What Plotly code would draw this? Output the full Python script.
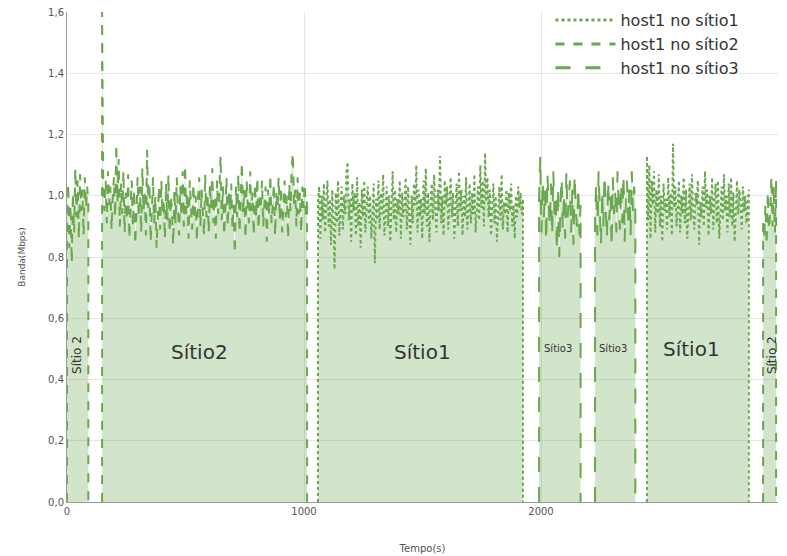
import plotly.graph_objects as go

# ---- data (time in s, bandwidth in Mbps), sampled every 5 s ----
step = 5

segA_start = 0      # host1 no sítio2
segA = [0.90, 1.04, 0.83, 0.97, 0.78, 1.01, 0.88, 1.09, 0.93, 1.05, 0.86, 1.07, 0.95, 1.02, 0.87, 1.06, 0.96, 1.03, 0.98]

segB_start = 148    # host1 no sítio2
segB = [1.60, 1.02, 0.95, 1.05, 0.91, 1.08, 0.97, 1.03, 0.89, 1.00,
        1.06, 0.93, 1.17, 0.98, 1.12, 0.90, 1.04, 0.94, 1.08, 0.88,
        1.01, 0.92, 1.07, 0.86, 0.99, 1.05, 0.90, 1.02, 0.84, 0.97,
        1.06, 0.93, 1.03, 0.88, 1.09, 0.95, 1.01, 0.87, 1.15, 0.96,
        1.04, 0.85, 0.98, 1.06, 0.91, 1.00, 0.83, 0.97, 1.03, 0.89,
        1.05, 0.94, 0.99, 0.86, 1.04, 0.92, 1.07, 0.88, 1.00, 0.95,
        0.84, 1.02, 0.91, 1.06, 0.96, 0.87, 1.03, 0.93, 1.08, 0.90,
        1.10, 0.94, 1.01, 0.86, 1.05, 0.97, 0.89, 1.04, 0.92, 1.00,
        0.85, 0.99, 1.06, 0.90, 1.02, 0.95, 0.87, 1.07, 0.93, 1.01,
        0.88, 1.04, 0.96, 1.09, 0.91, 1.00, 0.86, 1.05, 0.94, 1.02,
        1.13, 0.92, 1.03, 0.87, 0.98, 1.06, 0.90, 1.01, 0.95, 1.04,
        0.89, 0.97, 0.81, 1.03, 0.93, 1.07, 0.88, 1.00, 1.11, 0.94,
        1.02, 0.86, 1.05, 0.96, 0.91, 1.08, 0.95, 1.01, 0.87, 1.04,
        0.93, 1.06, 0.89, 1.00, 0.97, 1.05, 0.90, 0.98, 1.03, 0.85,
        1.02, 0.94, 1.07, 0.91, 0.99, 1.04, 0.87, 1.01, 0.96, 1.06,
        0.92, 1.03, 0.88, 0.97, 1.05, 0.93, 1.00, 0.86, 1.04, 0.95,
        1.09, 1.14, 0.97, 1.02, 0.90, 1.06, 0.94, 1.01, 0.88, 1.03,
        0.96, 1.04, 0.93, 0.99]

segC_start = 1059   # host1 no sítio1
segC = [0.98, 1.03, 0.86, 1.00, 0.92, 1.04, 0.88, 0.97, 1.05, 0.90,
        0.99, 0.84, 1.02, 0.93, 0.76, 1.01, 0.91, 1.05, 0.87, 0.96,
        1.03, 0.89, 1.00, 0.94, 1.08, 1.11, 0.92, 0.99, 0.85, 1.04,
        0.95, 1.01, 0.87, 1.06, 0.90, 0.98, 0.83, 1.02, 0.93, 1.05,
        0.88, 0.97, 1.03, 0.91, 1.00, 0.86, 0.95, 1.04, 0.78, 0.99,
        0.92, 1.05, 0.89, 1.01, 0.94, 1.07, 0.87, 0.98, 1.03, 0.90,
        1.00, 0.85, 0.96, 1.08, 0.92, 1.02, 0.88, 0.99, 0.94, 1.05,
        0.86, 1.01, 0.93, 0.97, 1.06, 0.89, 1.03, 0.95, 0.84, 1.00,
        0.91, 1.04, 0.97, 1.10, 0.88, 1.02, 0.93, 0.99, 0.86, 1.05,
        0.94, 1.09, 0.90, 1.01, 0.85, 0.98, 1.04, 0.92, 1.07, 0.96,
        0.88, 1.02, 0.95, 1.13, 0.91, 1.00, 0.87, 1.05, 0.97, 1.03,
        0.89, 0.99, 1.06, 0.93, 1.01, 0.86, 0.96, 1.04, 0.90, 1.08,
        0.95, 1.02, 0.87, 1.00, 0.93, 1.06, 0.89, 0.98, 1.04, 0.91,
        1.01, 0.94, 1.07, 0.88, 0.97, 1.03, 0.92, 1.10, 0.96, 1.05,
        0.90, 1.14, 0.98, 1.06, 0.93, 1.02, 0.87, 0.99, 1.04, 0.91,
        1.00, 0.85, 0.96, 1.03, 0.92, 1.07, 0.89, 0.98, 0.94, 1.02,
        0.88, 1.01, 0.95, 1.04, 0.90, 0.97, 0.86, 1.00, 0.93, 1.03,
        0.96, 1.01, 0.94, 0.99]

segD_start = 1992   # host1 no sítio3
segD = [1.00, 1.13, 0.88, 1.05, 0.93, 1.02, 0.85, 1.07, 0.96, 0.90,
        1.04, 0.87, 1.08, 0.94, 0.99, 0.82, 1.03, 0.80, 0.97, 1.06,
        0.89, 1.01, 0.86, 1.08, 0.93, 0.98, 1.05, 0.88, 1.02, 0.84,
        1.07, 0.95, 0.90, 1.03, 0.87, 0.97]

segE_start = 2228   # host1 no sítio3
segE = [0.93, 1.04, 0.87, 1.08, 0.95, 0.84, 1.02, 0.90, 1.07, 0.97,
        0.86, 1.05, 0.92, 1.00, 0.83, 1.06, 0.94, 1.01, 0.88, 1.08,
        0.96, 0.89, 1.04, 0.91, 1.07, 0.85, 0.99, 1.05, 0.92, 1.02,
        0.87, 1.08, 0.95, 1.03, 0.98]

segF_start = 2447   # host1 no sítio1
segF = [1.13, 0.92, 1.10, 0.86, 1.05, 0.97, 1.08, 0.88, 1.02, 0.94,
        1.07, 0.90, 1.00, 0.85, 1.04, 0.95, 0.99, 0.89, 1.06, 0.93,
        1.01, 0.87, 1.17, 0.96, 1.03, 0.90, 0.98, 1.05, 0.88, 1.00,
        0.94, 1.06, 0.91, 1.02, 0.86, 0.99, 1.04, 0.92, 1.07, 0.95,
        0.89, 1.01, 0.97, 1.05, 0.84, 0.98, 0.93, 1.03, 0.90, 1.08,
        0.96, 1.02, 0.87, 1.00, 0.94, 1.06, 0.89, 0.99, 1.04, 0.91,
        1.05, 0.86, 0.98, 1.03, 0.92, 1.07, 0.95, 1.00, 0.88, 1.04,
        0.93, 1.06, 0.90, 1.01, 0.85, 0.99, 1.05, 0.94, 1.02, 0.97,
        0.89, 1.03, 0.95, 1.00, 0.91, 0.98, 1.02]

segG_start = 2937   # host1 no sítio2
segG = [0.92, 0.86, 0.97, 0.84, 1.01, 0.89, 0.95, 1.06, 0.90, 1.03, 0.88, 1.05]

series_names = ["host1 no sítio1", "host1 no sítio2", "host1 no sítio3"]
series_dash = {"host1 no sítio1": "dot", "host1 no sítio2": "dash", "host1 no sítio3": "longdash"}

segments = [
    (segA_start, segA, "host1 no sítio2"),
    (segB_start, segB, "host1 no sítio2"),
    (segC_start, segC, "host1 no sítio1"),
    (segD_start, segD, "host1 no sítio3"),
    (segE_start, segE, "host1 no sítio3"),
    (segF_start, segF, "host1 no sítio1"),
    (segG_start, segG, "host1 no sítio2"),
]

labels = [
    # text, x, y, size, angle
    ("Sítio 2", 42, 0.48, 12, -90),
    ("Sítio2", 561, 0.49, 20, 0),
    ("Sítio1", 1502, 0.49, 20, 0),
    ("Sítio3", 2072, 0.50, 10, 0),
    ("Sítio3", 2304, 0.50, 10, 0),
    ("Sítio1", 2637, 0.50, 20, 0),
    ("Sítio 2", 2975, 0.48, 12, -90),
]

LINE = "#6aa84f"
FILL = "rgba(106,168,79,0.30)"
FONT = "DejaVu Sans"

fig = go.Figure()
for start, vals, name in segments:
    xs = [start] + [start + step * i for i in range(len(vals))] + [start + step * (len(vals) - 1)]
    ys = [0] + list(vals) + [0]
    fig.add_trace(go.Scatter(
        x=xs, y=ys, mode="lines", fill="tozeroy", fillcolor=FILL,
        line=dict(color=LINE, width=2, dash=series_dash[name]),
        name=name, showlegend=False, hoverinfo="skip"))

for name in series_names:
    fig.add_trace(go.Scatter(
        x=[None], y=[None], mode="lines", name=name,
        line=dict(color=LINE, width=3, dash=series_dash[name])))

for text, x, y, size, ang in labels:
    fig.add_annotation(x=x, y=y, text=text, showarrow=False, textangle=ang,
                       font=dict(family=FONT, size=size, color="#333333"))

fig.update_layout(
    width=787, height=556,
    margin=dict(l=67, r=9, t=12, b=54, autoexpand=False),
    paper_bgcolor="white", plot_bgcolor="white",
    separators=",.",
    font=dict(family=FONT, color="#444444"),
    legend=dict(x=0.68, y=1.018, xanchor="left", yanchor="top",
                bgcolor="rgba(0,0,0,0)", itemwidth=60,
                font=dict(family=FONT, size=16, color="#333333")),
    xaxis=dict(range=[0, 3000], dtick=1000, tick0=0, showgrid=True,
               gridcolor="#e6e6e6", zeroline=False, showline=True,
               linecolor="#9a9a9a", ticks="", tickfont=dict(size=10, color="#555555"),
               title=dict(text="Tempo(s)", font=dict(size=10, color="#555555"), standoff=28)),
    yaxis=dict(range=[0, 1.6], dtick=0.2, tick0=0, tickformat=".1f", showgrid=True,
               gridcolor="#e6e6e6", zeroline=False, showline=True,
               linecolor="#9a9a9a", ticks="", tickfont=dict(size=10, color="#555555"),
               title=dict(text="Banda(Mbps)", font=dict(size=9, color="#555555"), standoff=20)),
)

fig.write_html("out.html")
